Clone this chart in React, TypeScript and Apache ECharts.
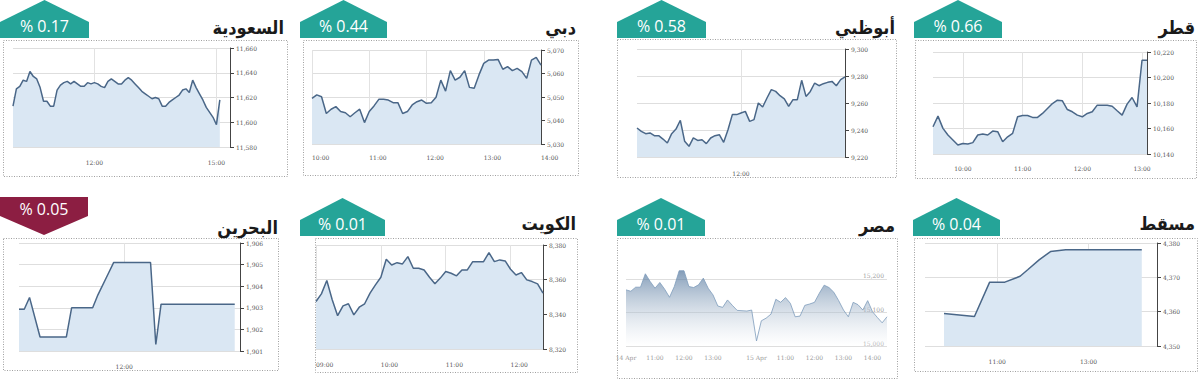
import React, { useEffect, useRef } from 'react';
import * as echarts from 'echarts';

// ---------- data ----------
const saudiValues = [11613, 11627, 11629, 11634, 11633, 11641, 11637, 11635, 11628, 11617,
  11617, 11613, 11613, 11626, 11630, 11632, 11633, 11631, 11633, 11631,
  11629, 11629, 11632, 11631, 11632, 11631, 11629, 11628, 11633, 11635,
  11633, 11631, 11631, 11634, 11636, 11634, 11631, 11628, 11625, 11623,
  11621, 11619, 11620, 11619, 11613, 11613, 11616, 11618, 11620, 11622,
  11626, 11627, 11624, 11634, 11628, 11623, 11618, 11612, 11608, 11604,
  11598, 11618];
const dubaiValues = [5049.4, 5050.9, 5050.1, 5043.0, 5044.8, 5045.9, 5043.8, 5043.3, 5041.6, 5043.3,
  5044.8, 5039.1, 5043.8, 5046.2, 5049.0, 5049.0, 5048.7, 5047.6, 5047.6, 5043.0,
  5043.8, 5046.6, 5048.0, 5048.7, 5047.3, 5047.6, 5049.9, 5057.2, 5052.5, 5061.2,
  5057.2, 5058.4, 5061.2, 5054.1, 5053.7, 5059.4, 5064.3, 5065.7, 5065.7, 5066.0,
  5061.8, 5062.9, 5061.2, 5062.2, 5060.8, 5057.9, 5065.7, 5066.9, 5063.6];
const abuDhabiValues = [9241.5, 9239.0, 9237.3, 9237.8, 9235.8, 9235.8, 9233.3, 9230.4, 9237.3, 9240.7,
  9247.2, 9231.6, 9227.9, 9234.1, 9232.3, 9232.8, 9229.9, 9234.1, 9235.8, 9236.5,
  9230.9, 9240.2, 9251.4, 9251.4, 9252.6, 9253.8, 9246.4, 9247.7, 9260.0, 9257.0,
  9263.7, 9269.9, 9268.6, 9265.4, 9263.0, 9257.5, 9262.5, 9262.5, 9276.8, 9264.9,
  9268.6, 9274.8, 9272.8, 9274.3, 9275.3, 9276.0, 9272.8, 9277.3, 9279.3];
const qatarValues = [10161.4, 10169.7, 10160.1, 10154.9, 10151.0, 10147.0, 10148.3, 10147.8, 10148.9, 10154.9,
  10155.6, 10154.9, 10158.0, 10157.5, 10149.6, 10153.5, 10156.2, 10169.2, 10170.2, 10170.2,
  10168.7, 10168.7, 10171.8, 10175.7, 10179.6, 10182.2, 10181.7, 10174.9, 10173.1, 10170.5,
  10169.2, 10171.8, 10173.1, 10178.3, 10178.3, 10178.3, 10177.5, 10173.9, 10170.5, 10179.1,
  10184.3, 10177.0, 10213.5, 10213.5];
const bahrainPoints: [string, number][] = [
  ['10:20', 1902.93], ['10:25', 1902.93], ['10:30', 1903.48], ['10:40', 1901.65], ['11:05', 1901.65],
  ['11:10', 1903.0], ['11:30', 1903.0], ['11:35', 1903.6], ['11:45', 1904.6], ['11:50', 1905.1],
  ['12:25', 1905.1], ['12:30', 1901.3], ['12:35', 1903.17], ['13:45', 1903.17]];
const kuwaitValues = [8347.4, 8351.8, 8359.5, 8348.4, 8339.2, 8344.9, 8346.1, 8339.7, 8344.1, 8346.1,
  8352.2, 8357.0, 8361.4, 8371.8, 8368.5, 8369.8, 8369.1, 8373.3, 8366.6, 8366.6,
  8365.6, 8361.4, 8357.6, 8360.9, 8364.7, 8363.7, 8362.2, 8365.6, 8365.6, 8370.4,
  8370.4, 8370.4, 8375.6, 8370.4, 8371.4, 8370.8, 8366.0, 8362.7, 8364.1, 8359.9,
  8358.9, 8357.6, 8352.2];
const egyptValues = [15167, 15163, 15175, 15175, 15215, 15192, 15172, 15189, 15169, 15145,
  15177, 15224, 15224, 15177, 15174, 15182, 15202, 15172, 15152, 15119,
  15115, 15137, 15121, 15106, 15105, 15104, 15107, 15015, 15075, 15083,
  15095, 15139, 15130, 15144, 15127, 15087, 15089, 15121, 15125, 15130,
  15157, 15181, 15174, 15160, 15135, 15107, 15087, 15130, 15123, 15107,
  15135, 15102, 15085, 15069, 15087];
const muscatPoints: [string, number][] = [
  ['09:50', 4359.5], ['10:30', 4358.6], ['10:50', 4368.6], ['11:10', 4368.6], ['11:30', 4370.3],
  ['11:40', 4372.2], ['11:55', 4375.1], ['12:10', 4377.5], ['12:30', 4378.0], ['14:10', 4378.0]];

const titles = ['السعودية', 'دبي', 'أبوظبي', 'قطر', 'البحرين', 'الكويت', 'مصر', 'مسقط'];
const changes = ['% 0.17', '% 0.44', '% 0.58', '% 0.66', '% 0.05', '% 0.01', '% 0.01', '% 0.04'];

const saudiLabels = ['12:00', '15:00'];
const dubaiLabels = ['10:00', '11:00', '12:00', '13:00', '14:00'];
const abuDhabiLabels = ['12:00'];
const qatarLabels = ['10:00', '11:00', '12:00', '13:00'];
const bahrainLabels = ['12:00'];
const kuwaitLabels = ['09:00', '10:00', '11:00', '12:00'];
const egyptLabels = ['14 Apr 10:00', '14 Apr 11:00', '14 Apr 12:00', '14 Apr 13:00',
  '15 Apr 10:00', '15 Apr 11:00', '15 Apr 12:00', '15 Apr 13:00', '15 Apr 14:00'];
const muscatLabels = ['11:00', '13:00'];

// ---------- helpers ----------
function timeRange(start: string, end: string, step: number): string[] {
  const toMin = (s: string) => { const [h, m] = s.split(':').map(Number); return h * 60 + m; };
  const out: string[] = [];
  for (let t = toMin(start); t <= toMin(end); t += step) {
    out.push(String(Math.floor(t / 60)).padStart(2, '0') + ':' + String(t % 60).padStart(2, '0'));
  }
  return out;
}
const fmt = (v: number) => Number(v).toLocaleString('en-US');

const egyptCats = [
  ...timeRange('10:00', '14:20', 10).map((t) => '14 Apr ' + t),
  ...timeRange('10:00', '14:30', 10).map((t) => '15 Apr ' + t),
];

const TEAL = '#25a498';
const RED = '#8c1e42';
const LINE = '#4a6788';
const AREA = '#dae7f3';

type Panel = {
  grid: [number, number, number, number];
  box: [number, number, number, number];
  badge: [number, number, number];
  up: boolean;
  color: string;
  titleX: number;
  titleY: number;
  cats: string[];
  data: any[];
  labels: string[];
  yMin: number; yMax: number; yInt: number;
  xMargin: number;
  xAlign: 'left' | 'center';
};

const panels: Panel[] = [
  { grid: [13, 48, 217, 99], box: [3, 40, 284, 136], badge: [0, 89, 0], up: true, color: TEAL, titleX: 284, titleY: 27,
    cats: timeRange('10:00', '15:20', 5), data: saudiValues, labels: saudiLabels, yMin: 11580, yMax: 11660, yInt: 20, xMargin: 12, xAlign: 'center' },
  { grid: [312, 50, 229, 94], box: [303, 40, 275, 135], badge: [300, 387, 0], up: true, color: TEAL, titleX: 576, titleY: 27,
    cats: timeRange('10:00', '14:00', 5), data: dubaiValues, labels: dubaiLabels, yMin: 5030, yMax: 5070, yInt: 10, xMargin: 10, xAlign: 'left' },
  { grid: [637, 49, 208, 108], box: [617, 39, 279, 138], badge: [617, 706, 0], up: true, color: TEAL, titleX: 895, titleY: 27,
    cats: timeRange('10:00', '14:00', 5), data: abuDhabiValues, labels: abuDhabiLabels, yMin: 9220, yMax: 9300, yInt: 20, xMargin: 13, xAlign: 'center' },
  { grid: [933, 52, 214, 102], box: [915, 40, 281, 138], badge: [914, 1002, 0], up: true, color: TEAL, titleX: 1195, titleY: 27,
    cats: timeRange('09:30', '13:05', 5), data: qatarValues, labels: qatarLabels, yMin: 10140, yMax: 10220, yInt: 20, xMargin: 11, xAlign: 'center' },
  { grid: [19, 243, 221, 108], box: [3, 238, 275, 132], badge: [0, 88, 197], up: false, color: RED, titleX: 278, titleY: 227,
    cats: timeRange('10:20', '13:50', 5), data: bahrainPoints, labels: bahrainLabels, yMin: 1901, yMax: 1906, yInt: 1, xMargin: 12, xAlign: 'center' },
  { grid: [316, 245, 227, 104], box: [315, 238, 262, 134], badge: [300, 385, 198], up: true, color: TEAL, titleX: 576, titleY: 223,
    cats: timeRange('09:00', '12:30', 5), data: kuwaitValues, labels: kuwaitLabels, yMin: 8320, yMax: 8380, yInt: 20, xMargin: 12, xAlign: 'left' },
  { grid: [626, 262, 261, 84], box: [617, 238, 280, 140], badge: [617, 705, 198], up: true, color: TEAL, titleX: 895, titleY: 225,
    cats: egyptCats, data: egyptValues, labels: egyptLabels, yMin: 15000, yMax: 15250, yInt: 100, xMargin: 8, xAlign: 'center' },
  { grid: [925, 243, 232, 103], box: [914, 238, 283, 133], badge: [913, 1000, 198], up: true, color: TEAL, titleX: 1195, titleY: 223,
    cats: timeRange('09:25', '14:30', 5), data: muscatPoints, labels: muscatLabels, yMin: 4350, yMax: 4380, yInt: 10, xMargin: 12, xAlign: 'center' },
];

const EGYPT = 6;

function buildOption() {
  const grid: any[] = [];
  const xAxis: any[] = [];
  const yAxis: any[] = [];
  const series: any[] = [];
  const graphic: any[] = [];

  panels.forEach((p, i) => {
    const isEgypt = i === EGYPT;
    const show = (_idx: number, val: string) => p.labels.includes(val);
    grid.push({ left: p.grid[0], top: p.grid[1], width: p.grid[2], height: p.grid[3], containLabel: false });
    xAxis.push({
      type: 'category', gridIndex: i, data: p.cats, boundaryGap: false,
      axisLine: { show: false }, axisTick: { show: false },
      axisLabel: {
        interval: show, margin: p.xMargin, fontSize: 6, fontFamily: 'DejaVu Serif',
        color: isEgypt ? '#9a9a9a' : '#555', align: p.xAlign,
        formatter: isEgypt ? (v: string) => (v.endsWith(' 10:00') ? v.slice(0, 6) : v.slice(7)) : undefined,
      },
      splitLine: { show: !isEgypt, interval: show, lineStyle: { color: '#e2e2e2', width: 1 } },
    });
    yAxis.push({
      type: 'value', gridIndex: i, position: 'right', min: p.yMin, max: p.yMax, interval: p.yInt,
      axisLine: { show: !isEgypt, onZero: false, lineStyle: { color: '#444', width: 1 } },
      axisTick: { show: !isEgypt, length: 4, lineStyle: { color: '#444' } },
      axisLabel: isEgypt
        ? { inside: true, margin: 3, fontSize: 6, fontFamily: 'DejaVu Serif', color: '#a0a0a0', verticalAlign: 'bottom', showMaxLabel: false, formatter: fmt }
        : { margin: 6, fontSize: 6, fontFamily: 'DejaVu Serif', color: '#555', formatter: fmt },
      splitLine: { show: true, showMaxLine: !isEgypt, lineStyle: { color: '#dedede', width: 1 } },
    });
    series.push({
      type: 'line', xAxisIndex: i, yAxisIndex: i, data: p.data, showSymbol: false, symbol: 'none',
      lineStyle: isEgypt ? { color: '#7d9cbb', width: 0.8 } : { color: LINE, width: 1.5 },
      areaStyle: isEgypt
        ? {
            origin: 'start',
            color: new echarts.graphic.LinearGradient(0, 0, 0, 1, [
              { offset: 0, color: 'rgba(70,108,150,0.95)' },
              { offset: 1, color: 'rgba(255,255,255,0.4)' },
            ]),
          }
        : { origin: 'start', color: AREA, opacity: 1 },
    });

    // dotted panel box
    graphic.push({
      type: 'rect', z: 0, silent: true,
      shape: { x: p.box[0] + 0.5, y: p.box[1] + 0.5, width: p.box[2], height: p.box[3] },
      style: { fill: 'none', stroke: '#a0a0a0', lineWidth: 1, lineDash: [1, 1.5] },
    });
    // change badge
    const [x0, x1, top] = p.badge;
    const mid = (x0 + x1) / 2;
    const pts = p.up
      ? [[x0, top + 38], [x0, top + 22], [mid, top], [x1, top + 22], [x1, top + 38]]
      : [[x0, top], [x1, top], [x1, top + 19], [mid, top + 38], [x0, top + 19]];
    graphic.push({ type: 'polygon', z: 5, silent: true, shape: { points: pts }, style: { fill: p.color } });
    graphic.push({
      type: 'text', z: 6, silent: true, x: mid, y: p.up ? top + 26 : top + 12,
      style: { text: changes[i], fill: '#ffffff', fontSize: 16, fontFamily: 'Open Sans', align: 'center', verticalAlign: 'middle' },
    });
    // title
    graphic.push({
      type: 'text', z: 6, silent: true, x: p.titleX, y: p.titleY,
      style: { text: titles[i], fill: '#1a1a1a', fontSize: 18, fontWeight: 'bold', fontFamily: '"DejaVu Sans Condensed", "DejaVu Sans"', align: 'right', verticalAlign: 'middle' },
    });
  });

  return { animation: false, backgroundColor: '#ffffff', grid, xAxis, yAxis, series, graphic };
}

export default function App() {
  const ref = useRef<HTMLDivElement>(null);
  useEffect(() => {
    document.body.style.margin = '0';
    const chart = echarts.init(ref.current!, null, { renderer: 'svg' });
    chart.setOption(buildOption() as any);
    return () => chart.dispose();
  }, []);
  return <div ref={ref} style={{ position: 'absolute', left: 0, top: 0, width: 1200, height: 381, background: '#fff' }} />;
}
